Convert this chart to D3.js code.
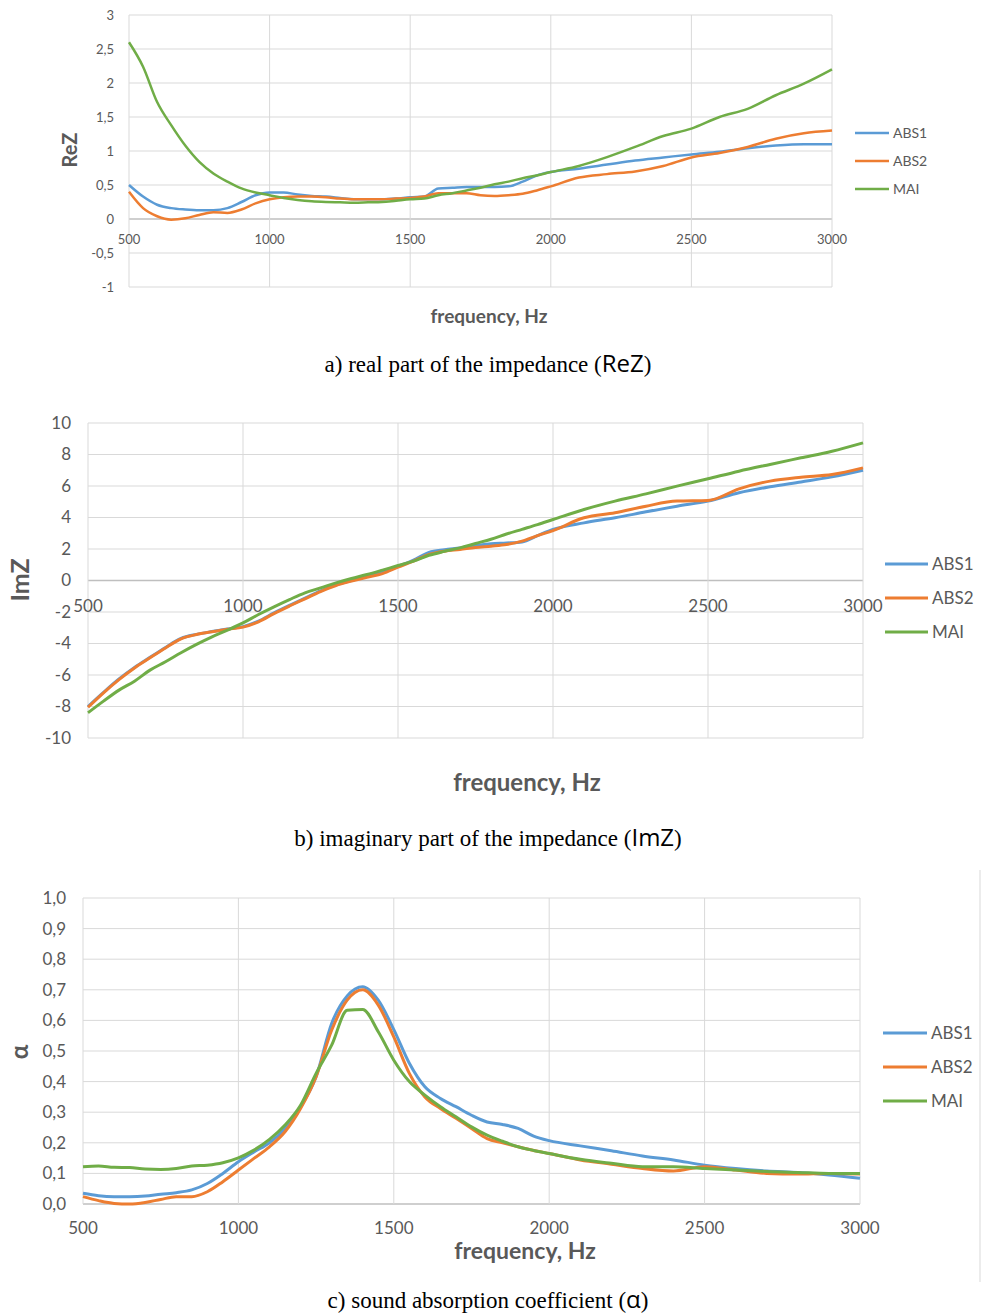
<!DOCTYPE html>
<html>
<head>
<meta charset="utf-8">
<script src="https://cdn.jsdelivr.net/npm/d3@7"></script>
<style>
  body { margin: 0; background: #fff; }
  svg { display: block; }
</style>
</head>
<body>
<div id="chart"></div>
<script>
// frequencies shared by all three panels (Hz)
var freq = [500,550,600,650,700,750,800,850,900,950,1000,1050,1100,1150,1200,1250,1300,1350,1400,1450,1500,
            1550,1600,1650,1700,1750,1800,1850,1900,1950,2000,2100,2200,2300,2400,2500,2600,2700,2800,2900,3000];
var seriesNames = ["ABS1", "ABS2", "MAI"];
var xTicks = [500, 1000, 1500, 2000, 2500, 3000];

// a) real part
var reABS1 = [0.50,0.33,0.21,0.16,0.14,0.13,0.13,0.16,0.25,0.35,0.39,0.39,0.36,0.34,0.33,0.31,0.29,0.29,0.29,0.30,0.32,
              0.33,0.45,0.46,0.47,0.47,0.47,0.48,0.55,0.64,0.69,0.74,0.80,0.86,0.905,0.95,0.99,1.04,1.08,1.10,1.10];
var reABS2 = [0.40,0.16,0.04,-0.01,0.01,0.06,0.10,0.09,0.14,0.23,0.29,0.32,0.33,0.33,0.32,0.30,0.29,0.29,0.29,0.30,0.31,
              0.33,0.38,0.38,0.38,0.35,0.34,0.35,0.37,0.42,0.48,0.61,0.66,0.70,0.78,0.905,0.97,1.06,1.18,1.26,1.30];
var reMAI  = [2.60,2.24,1.72,1.38,1.08,0.84,0.67,0.55,0.45,0.39,0.35,0.31,0.28,0.26,0.25,0.245,0.24,0.245,0.25,0.27,0.29,
              0.30,0.35,0.38,0.42,0.46,0.51,0.55,0.60,0.64,0.69,0.78,0.91,1.06,1.22,1.33,1.50,1.62,1.82,1.99,2.20];
var reTicks = [-1,-0.5,0,0.5,1,1.5,2,2.5,3];

// b) imaginary part
var imABS1 = [-8.0,-7.1,-6.25,-5.52,-4.88,-4.25,-3.68,-3.42,-3.24,-3.08,-2.93,-2.58,-2.06,-1.58,-1.12,-0.66,-0.28,0.0,0.26,0.52,0.90,
              1.30,1.78,1.95,2.07,2.22,2.33,2.38,2.45,2.85,3.24,3.66,3.98,4.36,4.72,5.04,5.57,5.95,6.26,6.58,7.0];
var imABS2 = [-8.05,-7.13,-6.29,-5.55,-4.91,-4.28,-3.70,-3.43,-3.26,-3.10,-2.96,-2.62,-2.10,-1.62,-1.16,-0.70,-0.32,-0.04,0.21,0.44,0.85,
              1.23,1.65,1.86,1.97,2.10,2.18,2.28,2.50,2.85,3.17,3.98,4.30,4.72,5.04,5.08,5.82,6.31,6.56,6.73,7.15];
var imMAI  = [-8.40,-7.66,-6.96,-6.39,-5.69,-5.16,-4.59,-4.06,-3.58,-3.15,-2.69,-2.16,-1.67,-1.21,-0.78,-0.47,-0.15,0.13,0.38,0.66,0.95,
              1.23,1.60,1.85,2.07,2.35,2.62,2.95,3.25,3.55,3.87,4.51,5.04,5.50,5.99,6.46,6.94,7.37,7.79,8.21,8.74];
var imTicks = [-10,-8,-6,-4,-2,0,2,4,6,8,10];

// c) sound absorption coefficient
var alABS1 = [0.035,0.027,0.024,0.024,0.026,0.032,0.037,0.046,0.067,0.10,0.138,0.17,0.20,0.247,0.318,0.416,0.59,0.68,0.71,0.666,0.57,
              0.46,0.383,0.345,0.318,0.29,0.268,0.26,0.247,0.222,0.207,0.19,0.174,0.157,0.144,0.127,0.116,0.108,0.103,0.095,0.084];
var alABS2 = [0.024,0.011,0.002,0.0,0.005,0.015,0.024,0.024,0.04,0.073,0.111,0.149,0.187,0.236,0.312,0.416,0.568,0.666,0.70,0.65,0.546,
              0.427,0.35,0.312,0.28,0.247,0.214,0.20,0.187,0.175,0.165,0.144,0.13,0.116,0.108,0.122,0.111,0.10,0.098,0.10,0.098];
var alMAI  = [0.122,0.124,0.12,0.119,0.114,0.113,0.116,0.124,0.127,0.135,0.151,0.176,0.211,0.258,0.323,0.427,0.519,0.633,0.636,0.563,0.47,
              0.40,0.356,0.318,0.285,0.252,0.225,0.205,0.187,0.175,0.165,0.146,0.133,0.122,0.122,0.116,0.111,0.106,0.103,0.10,0.10];
var alTicks = [0,0.1,0.2,0.3,0.4,0.5,0.6,0.7,0.8,0.9,1.0];

var colors = ["#5B9BD5", "#ED7D31", "#70AD47"];
var sans = "Lato, 'Open Sans', sans-serif";

var svg = d3.select("#chart").append("svg")
	.attr("width", 983)
	.attr("height", 1314);

svg.append("rect").attr("width", 983).attr("height", 1314).attr("fill", "#fff");

// draw one Excel-like panel
function drawPanel(o) {
	var x = d3.scaleLinear().domain([500, 3000]).range([o.left, o.right]);
	var y = d3.scaleLinear().domain(o.yDomain).range([o.bottom, o.top]);
	var g = svg.append("g");

	// gridlines
	g.append("g").selectAll("line").data(o.yTicks).enter().append("line")
		.attr("x1", o.left).attr("x2", o.right)
		.attr("y1", function(d) { return y(d); }).attr("y2", function(d) { return y(d); })
		.attr("stroke", function(d) { return d === 0 ? "#bfbfbf" : "#d9d9d9"; })
		.attr("stroke-width", function(d) { return d === 0 ? 1.3 : 1; });
	g.append("g").selectAll("line").data(xTicks).enter().append("line")
		.attr("x1", function(d) { return x(d); }).attr("x2", function(d) { return x(d); })
		.attr("y1", o.top).attr("y2", o.bottom)
		.attr("stroke", "#d9d9d9");

	// y tick labels
	g.append("g").selectAll("text").data(o.yTicks).enter().append("text")
		.attr("x", o.yLabelX)
		.attr("y", function(d) { return y(d); })
		.attr("dy", "0.35em")
		.attr("text-anchor", "end")
		.style("font-family", sans).style("font-size", o.tickSize + "px").attr("fill", "#595959")
		.text(function(d) { return o.fmt(d); });

	// x tick labels
	g.append("g").selectAll("text").data(xTicks).enter().append("text")
		.attr("x", function(d) { return x(d); })
		.attr("y", o.xLabelY)
		.attr("dy", "0.35em")
		.attr("text-anchor", "middle")
		.style("font-family", sans).style("font-size", o.tickSize + "px").attr("fill", "#595959")
		.text(function(d) { return d; });

	// series
	var line = d3.line()
		.x(function(d, i) { return x(freq[i]); })
		.y(function(d) { return y(d); })
		.curve(d3.curveMonotoneX);
	g.append("g").selectAll("path").data(o.series).enter().append("path")
		.attr("d", function(d) { return line(d); })
		.attr("fill", "none")
		.attr("stroke", function(d, i) { return colors[i]; })
		.attr("stroke-width", o.lineW)
		.attr("stroke-linejoin", "round");

	// axis titles
	g.append("text")
		.attr("transform", "translate(" + o.yTitleX + "," + o.yTitleY + ") rotate(-90)")
		.attr("text-anchor", "middle").attr("dy", "0.35em")
		.style("font-family", sans).style("font-size", o.yTitleSize + "px").style("font-weight", "bold")
		.attr("fill", "#595959")
		.text(o.yTitle);
	g.append("text")
		.attr("x", o.xTitleX).attr("y", o.xTitleY).attr("dy", "0.35em")
		.attr("text-anchor", "middle")
		.style("font-family", sans).style("font-size", o.titleSize + "px").style("font-weight", "bold")
		.attr("fill", "#595959")
		.text("frequency, Hz");

	// legend
	var leg = g.append("g").selectAll("g").data(seriesNames).enter().append("g")
		.attr("transform", function(d, i) { return "translate(" + o.legX + "," + (o.legY + i * o.legStep) + ")"; });
	leg.append("line").attr("x1", 0).attr("x2", o.legLen)
		.attr("stroke", function(d, i) { return colors[i]; }).attr("stroke-width", o.lineW);
	leg.append("text").attr("x", o.legLen + 4).attr("dy", "0.35em")
		.style("font-family", sans).style("font-size", o.legSize + "px").attr("fill", "#595959")
		.text(function(d) { return d; });

	// caption
	var cap = svg.append("text")
		.attr("x", 488).attr("y", o.capY).attr("dy", "0.35em")
		.attr("text-anchor", "middle")
		.style("font-family", "'Liberation Serif', 'Times New Roman', serif").style("font-size", "23px")
		.attr("fill", "#000");
	cap.append("tspan").text(o.caption + " (");
	cap.append("tspan").style("font-family", "'Open Sans', sans-serif").style("font-size", "24px").text(o.capSym);
	cap.append("tspan").text(")");
}

var commaFmt = function(dec) {
	return function(d) { return (dec ? d3.format("." + dec + "f")(d) : d3.format("")(d)).replace(".", ",").replace("−", "-"); };
};

drawPanel({
	left: 129, right: 832, top: 15, bottom: 287, yDomain: [-1, 3], yTicks: reTicks,
	series: [reABS1, reABS2, reMAI], fmt: commaFmt(0),
	yLabelX: 114, xLabelY: 239, tickSize: 13, lineW: 2.5,
	yTitle: "ReZ", yTitleX: 70, yTitleY: 150, yTitleSize: 20, xTitleX: 489, xTitleY: 316, titleSize: 19,
	legX: 855, legY: 133, legStep: 28, legLen: 34, legSize: 14,
	caption: "a) real part of the impedance", capSym: "ReZ", capY: 364
});

drawPanel({
	left: 88, right: 863, top: 423, bottom: 738, yDomain: [-10, 10], yTicks: imTicks,
	series: [imABS1, imABS2, imMAI], fmt: commaFmt(0),
	yLabelX: 71, xLabelY: 606, tickSize: 17, lineW: 3,
	yTitle: "ImZ", yTitleX: 20, yTitleY: 580, yTitleSize: 25, xTitleX: 527, xTitleY: 783, titleSize: 24,
	legX: 885, legY: 564, legStep: 34, legLen: 43, legSize: 17,
	caption: "b) imaginary part of the impedance", capSym: "ImZ", capY: 838
});

drawPanel({
	left: 83, right: 860, top: 898, bottom: 1204, yDomain: [0, 1], yTicks: alTicks,
	series: [alABS1, alABS2, alMAI], fmt: commaFmt(1),
	yLabelX: 66, xLabelY: 1228, tickSize: 17, lineW: 3,
	yTitle: "α", yTitleX: 20, yTitleY: 1052, yTitleSize: 24, xTitleX: 525, xTitleY: 1251, titleSize: 23,
	legX: 883, legY: 1033, legStep: 34, legLen: 44, legSize: 17,
	caption: "c) sound absorption coefficient", capSym: "α", capY: 1300
});

// thin frame edge on the right of the last panel
svg.append("line").attr("x1", 980).attr("x2", 980).attr("y1", 870).attr("y2", 1282)
	.attr("stroke", "#d9d9d9");
</script>
</body>
</html>
